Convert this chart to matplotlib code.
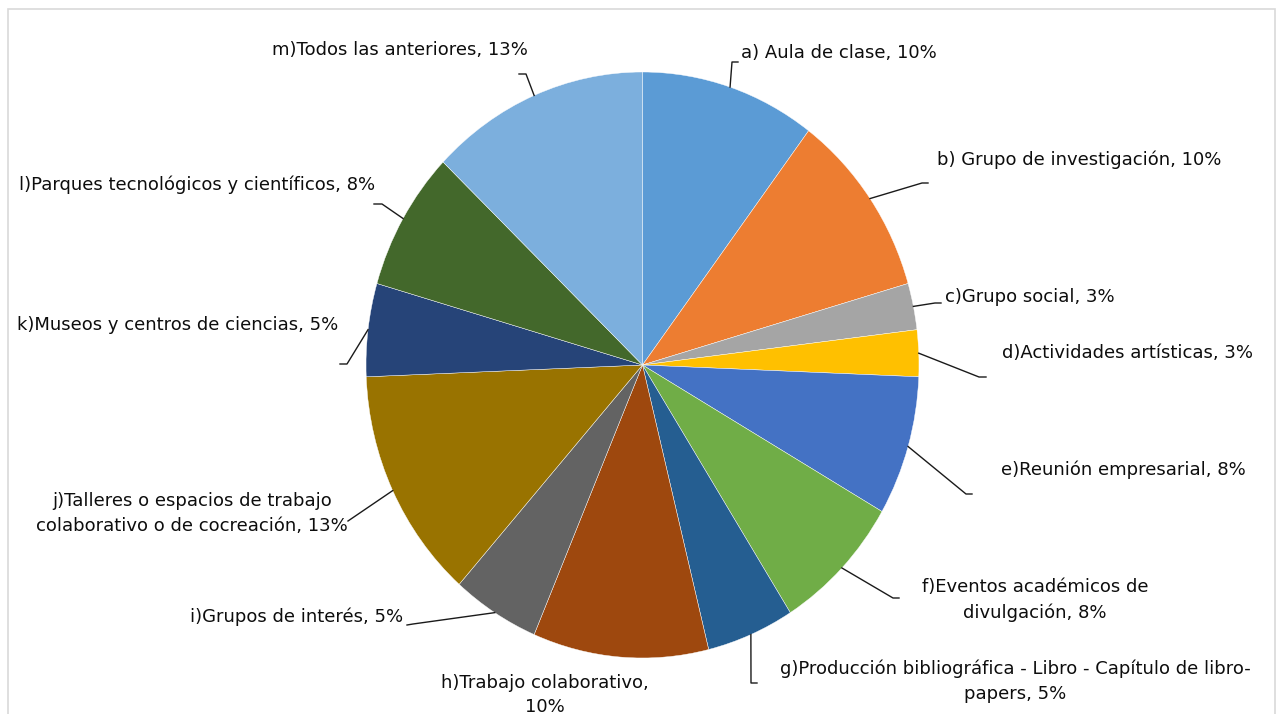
"""
Espacios de apropiación - pie chart with leader labels
"""

import numpy as np
import matplotlib.pyplot as plt
from matplotlib.patches import Rectangle

# ---- data ----
names = [
    "a) Aula de clase",
    "b) Grupo de investigación",
    "c)Grupo social",
    "d)Actividades artísticas",
    "e)Reunión empresarial",
    "f)Eventos académicos de\ndivulgación",
    "g)Producción bibliográfica - Libro - Capítulo de libro-\npapers",
    "h)Trabajo colaborativo,\n",
    "i)Grupos de interés",
    "j)Talleres o espacios de trabajo\ncolaborativo o de cocreación",
    "k)Museos y centros de ciencias",
    "l)Parques tecnológicos y científicos",
    "m)Todos las anteriores",
]
counts = [4, 4, 1, 1, 3, 3, 2, 4, 2, 5, 2, 3, 5]
colors = ["#5B9BD5", "#ED7D31", "#A5A5A5", "#FFC000", "#4472C4", "#70AD47",
          "#255E91", "#9E480E", "#636363", "#997300", "#264478", "#43682B",
          "#7CAFDD"]

# ---- layout (pixel positions in the 1277x714 image) ----
W, H = 1277, 714
CX, CY, RX, RY = 642.5, 365, 276.5, 293

# text x, text y, ha, leader path after the slice edge point
label_layout = [
    (741, 53, "left", [(732, 62), (738, 62)]),
    (937, 160, "left", [(922, 183), (928, 183)]),
    (945, 297, "left", [(935, 303), (941, 303)]),
    (1002, 353, "left", [(979, 377), (986, 377)]),
    (1001, 470, "left", [(966, 494), (972, 494)]),
    (1035, 600, "center", [(893, 598), (899, 598)]),
    (1015, 681, "center", [(751, 683), (757, 683)]),
    (545, 695, "center", []),
    (403, 617, "right", [(413, 624), (407, 625)]),
    (192, 513, "center", [(348, 521)]),
    (338, 325, "right", [(347, 364), (340, 364)]),
    (375, 185, "right", [(382, 204), (374, 204)]),
    (528, 50, "right", [(526, 74), (519, 74)]),
]


def px(x, y):
    # pixel -> data coordinates of the full-figure axes
    return (x - CX) / RX, (CY - y) / RY


fig = plt.figure(figsize=(W / 100, H / 100), dpi=100)
ax = fig.add_axes([0, 0, 1, 1])

wedges, _ = ax.pie(counts, colors=colors, startangle=90, counterclock=False,
                   wedgeprops=dict(linewidth=0.3, edgecolor="white"))
ax.set_aspect("auto")
ax.set_xlim(px(0, 0)[0], px(W, 0)[0])
ax.set_ylim(px(0, H)[1], px(0, 0)[1])
ax.axis("off")

total = sum(counts)
for w, name, n, (tx, ty, ha, path) in zip(wedges, names, counts, label_layout):
    pct = f"{round(100 * n / total)}%"
    if name.endswith("\n"):
        text = name + pct
    else:
        text = name + ", " + pct
    x, y = px(tx, ty)
    ax.text(x, y, text, ha=ha, va="center", fontsize=13, color="#0d0d0d",
            linespacing=1.5, family="DejaVu Sans")
    if path:
        mid = np.deg2rad((w.theta1 + w.theta2) / 2)
        pts = [(np.cos(mid), np.sin(mid))] + [px(*p) for p in path]
        xs, ys = zip(*pts)
        ax.plot(xs, ys, color="#1a1a1a", lw=1.0)

# chart area border
fig.patches.append(Rectangle((8 / W, -0.01), (1275 - 8) / W, 1 - 9 / H + 0.01,
                             transform=fig.transFigure, fill=False,
                             edgecolor="#d9d9d9", lw=1.2))

fig.savefig("out.png", dpi=100)
